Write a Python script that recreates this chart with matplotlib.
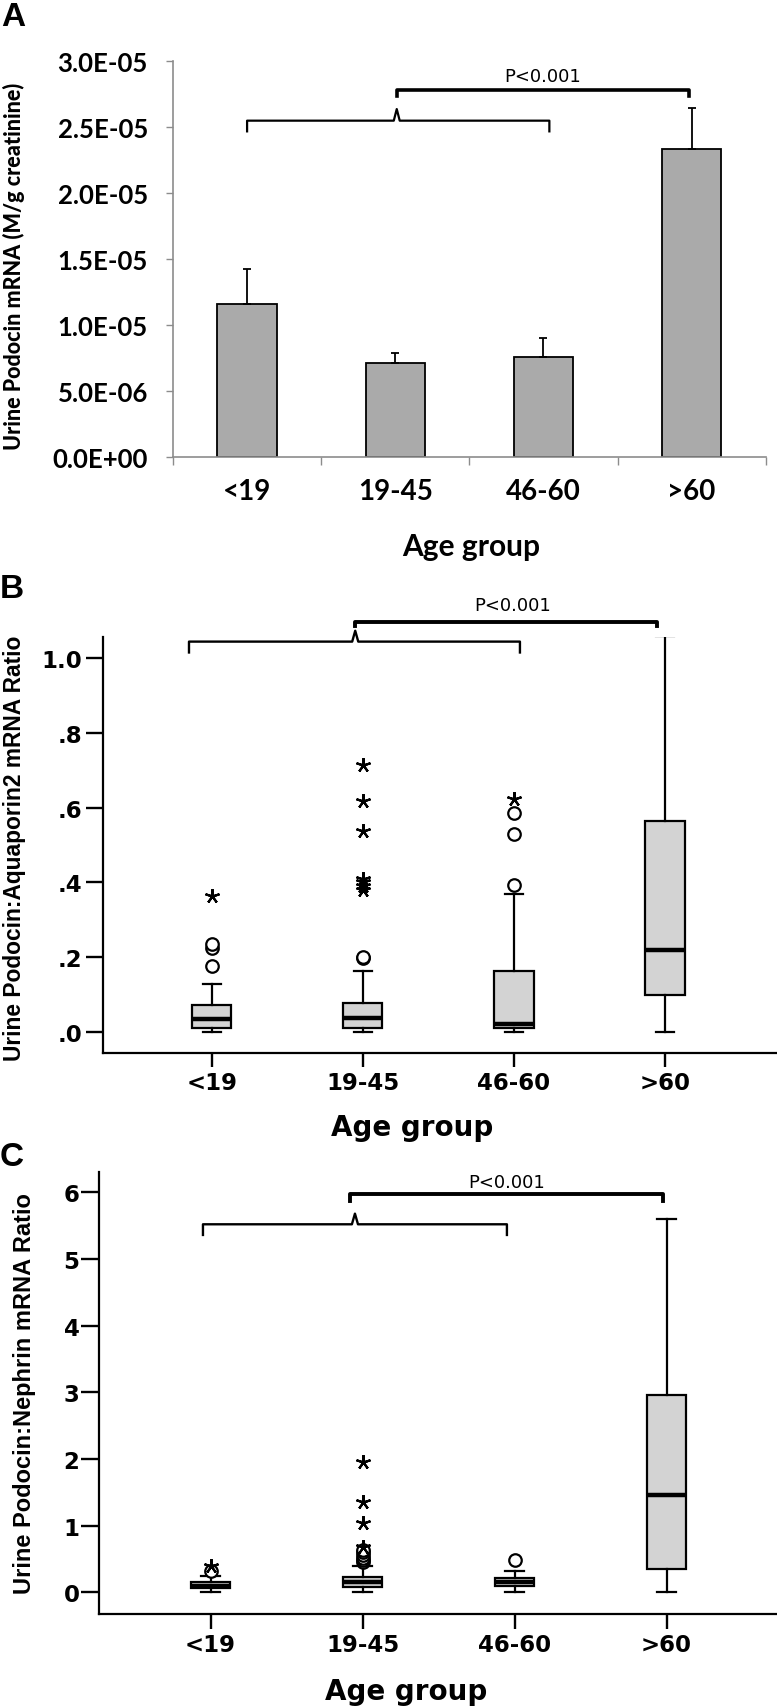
import matplotlib
matplotlib.use("Agg")
import matplotlib.pyplot as plt
import numpy as np

# ---------------- data ----------------
categories = ['<19', '19-45', '46-60', '>60']

# Panel A: urine podocin mRNA (mean, upper SEM)
podocin_mean = [1.16e-5, 7.12e-6, 7.58e-6, 2.334e-5]
podocin_err = [2.64e-6, 0.73e-6, 1.41e-6, 3.09e-6]
a_yticks = [0, 5e-6, 1e-5, 1.5e-5, 2e-5, 2.5e-5, 3e-5]
a_yticklabels = ['0.0E+00', '5.0E-06', '1.0E-05', '1.5E-05', '2.0E-05', '2.5E-05', '3.0E-05']

# Panel B: podocin:aquaporin2 ratio box stats
aqp_whislo = [0.002, 0.0, 0.0, 0.0]
aqp_q1 = [0.012, 0.012, 0.012, 0.100]
aqp_med = [0.035, 0.037, 0.022, 0.221]
aqp_q3 = [0.072, 0.078, 0.163, 0.563]
aqp_whishi = [0.130, 0.165, 0.369, 1.057]
aqp_circle_grp = [1, 1, 1, 2, 2, 3, 3, 3]
aqp_circle_val = [0.177, 0.225, 0.235, 0.198, 0.202, 0.394, 0.529, 0.585]
aqp_star_grp = [1, 2, 2, 2, 2, 2, 2, 2, 3]
aqp_star_val = [0.363, 0.380, 0.390, 0.400, 0.410, 0.537, 0.618, 0.714, 0.623]
b_yticks = [0.0, 0.2, 0.4, 0.6, 0.8, 1.0]
b_yticklabels = ['.0', '.2', '.4', '.6', '.8', '1.0']

# Panel C: podocin:nephrin ratio box stats
neph_whislo = [0.01, 0.0, 0.0, 0.0]
neph_q1 = [0.060, 0.075, 0.100, 0.343]
neph_med = [0.100, 0.150, 0.160, 1.464]
neph_q3 = [0.155, 0.225, 0.210, 2.965]
neph_whishi = [0.247, 0.400, 0.311, 5.600]
neph_circle_grp = [1, 2, 2, 2, 2, 2, 2, 3]
neph_circle_val = [0.32, 0.45, 0.48, 0.52, 0.56, 0.60, 0.63, 0.477]
neph_star_grp = [1, 2, 2, 2, 2]
neph_star_val = [0.40, 0.68, 1.04, 1.35, 1.95]
c_yticks = [0, 1, 2, 3, 4, 5, 6]
c_yticklabels = ['0', '1', '2', '3', '4', '5', '6']

# ---------------- figure ----------------
W, H = 777, 1708
fig = plt.figure(figsize=(W / 100, H / 100), dpi=100)


def fx(px):
    return px / W


def fy(py):
    return 1 - py / H


def axes_px(left, top, right, bottom):
    return fig.add_axes([fx(left), fy(bottom), fx(right) - fx(left), (bottom - top) / H])


LATO = ['Lato', 'DejaVu Sans']
ARIALB = ['Liberation Sans', 'DejaVu Sans']
WIDE = ['DejaVu Sans']

# ======== Panel A ========
axA = axes_px(173, 62, 765.7, 458)
x = np.arange(len(categories))
axA.bar(x, podocin_mean, width=0.4, color='#aaaaaa', edgecolor='black', linewidth=1.3, zorder=2)
axA.errorbar(x, podocin_mean, yerr=[np.zeros(len(x)), podocin_err], fmt='none',
             ecolor='black', elinewidth=1.3, capsize=3, capthick=1.3, zorder=3)
axA.set_xlim(-0.5, 3.5)
axA.set_ylim(0, 3e-5)
for s in ['top', 'right']:
    axA.spines[s].set_visible(False)
for s in ['left', 'bottom']:
    axA.spines[s].set_color('#8c8c8c')
    axA.spines[s].set_linewidth(1.2)
axA.set_yticks(a_yticks)
axA.set_yticklabels(a_yticklabels, fontfamily=LATO, fontweight='bold', fontsize=18.5)
axA.tick_params(axis='y', length=5, width=1, color='#8c8c8c', pad=13)
axA.set_xticks(x)
axA.set_xticklabels(categories, fontfamily=LATO, fontweight='bold', fontsize=20)
axA.tick_params(axis='x', which='major', length=0, pad=15)
axA.set_xticks(np.arange(-0.5, 3.6, 1.0), minor=True)
axA.tick_params(axis='x', which='minor', length=6, width=1, color='#8c8c8c')

# brackets A
axA.plot([0.0, 0.0, 0.99, 1.01, 1.03, 2.04, 2.04],
         [2.467e-5, 2.548e-5, 2.548e-5, 2.636e-5, 2.548e-5, 2.548e-5, 2.467e-5],
         color='black', lw=1.6, clip_on=False, solid_joinstyle='round')
axA.plot([1.01, 1.01, 2.98, 2.98], [2.737e-5, 2.783e-5, 2.783e-5, 2.737e-5],
         color='black', lw=2.6, clip_on=False)
axA.text(1.995, 2.889e-5, 'P<0.001', ha='center', va='center', fontsize=13,
         fontfamily=WIDE, clip_on=False)

fig.text(fx(14), fy(266), 'Urine Podocin mRNA (M/g creatinine)', rotation=90,
         ha='center', va='center', fontfamily=LATO, fontweight='black', fontsize=15.5)
fig.text(fx(471), fy(547), 'Age group', ha='center', va='center',
         fontfamily=LATO, fontweight='bold', fontsize=21.5)
fig.text(fx(13), fy(17), 'A', ha='center', va='center', fontfamily=ARIALB,
         fontweight='bold', fontsize=24)


# ======== box panels ========
def box_panel(ax, whislo, q1, med, q3, whishi, cgrp, cval, sgrp, sval,
              xlim, ylim, yticks, yticklabels, ytick_len, ytick_pad, xtick_len):
    stats = []
    for i in range(len(categories)):
        stats.append(dict(med=med[i], q1=q1[i], q3=q3[i], whislo=whislo[i],
                          whishi=whishi[i], fliers=[]))
    pos = np.arange(1, len(categories) + 1)
    ax.bxp(stats, positions=pos, widths=0.26, patch_artist=True, showfliers=False,
           manage_ticks=False, capwidths=0.12,
           boxprops=dict(facecolor='#d3d3d3', edgecolor='black', linewidth=1.6),
           medianprops=dict(color='black', linewidth=3.2),
           whiskerprops=dict(color='black', linewidth=1.6),
           capprops=dict(color='black', linewidth=1.6))
    ax.plot(cgrp, cval, linestyle='none', marker='o', markersize=9,
            markerfacecolor='white', markeredgecolor='black', markeredgewidth=1.6,
            clip_on=False, zorder=4)
    ax.plot(sgrp, sval, linestyle='none', marker=(5, 2, 0), markersize=10.5,
            markeredgecolor='black', markeredgewidth=1.6, clip_on=False, zorder=4)
    ax.set_xlim(*xlim)
    ax.set_ylim(*ylim)
    for s in ['top', 'right']:
        ax.spines[s].set_visible(False)
    for s in ['left', 'bottom']:
        ax.spines[s].set_linewidth(1.6)
    ax.set_yticks(yticks)
    ax.set_yticklabels(yticklabels, fontfamily=WIDE, fontweight='bold', fontsize=16.5)
    ax.tick_params(axis='y', length=ytick_len, width=1.7, pad=ytick_pad)
    ax.set_xticks(pos)
    ax.set_xticklabels(categories, fontfamily=WIDE, fontweight='bold', fontsize=16.5)
    ax.tick_params(axis='x', length=xtick_len, width=1.7, pad=3)
    ax.patch.set_alpha(0)


# Panel B
axB = axes_px(102.7, 638.3, 777, 1054.3)
box_panel(axB, aqp_whislo, aqp_q1, aqp_med, aqp_q3, aqp_whishi,
          aqp_circle_grp, aqp_circle_val, aqp_star_grp, aqp_star_val,
          (0.279, 4.741), (-0.056, 1.0545), b_yticks, b_yticklabels, 12.5, 2.4, 10)
axB.plot([0.85, 0.85, 1.93, 1.95, 1.97, 3.04, 3.04],
         [1.014, 1.043, 1.043, 1.072, 1.043, 1.043, 1.014],
         color='black', lw=1.7, clip_on=False)
axB.plot([1.95, 1.95, 3.95, 3.95], [1.084, 1.096, 1.096, 1.084],
         color='black', lw=2.8, clip_on=False)
axB.text(2.99, 1.14, 'P<0.001', ha='center', va='center', fontsize=13,
         fontfamily=WIDE, clip_on=False)
fig.text(fx(15), fy(848), 'Urine Podocin:Aquaporin2 mRNA Ratio', rotation=90,
         ha='center', va='center', fontfamily=ARIALB, fontweight='bold', fontsize=16.4)
fig.text(fx(411.7), fy(1128), 'Age group', ha='center', va='center',
         fontfamily=WIDE, fontweight='bold', fontsize=20)
fig.text(fx(12), fy(590), 'B', ha='center', va='center', fontfamily=ARIALB,
         fontweight='bold', fontsize=24)

# Panel C
axC = axes_px(99, 1173.3, 777, 1615.2)
box_panel(axC, neph_whislo, neph_q1, neph_med, neph_q3, neph_whishi,
          neph_circle_grp, neph_circle_val, neph_star_grp, neph_star_val,
          (0.266, 4.727), (-0.33, 6.3), c_yticks, c_yticklabels, 13, 1, 10.5)
axC.plot([0.95, 0.95, 1.93, 1.95, 1.97, 2.95, 2.95],
         [5.36, 5.52, 5.52, 5.68, 5.52, 5.52, 5.36],
         color='black', lw=1.7, clip_on=False)
axC.plot([1.92, 1.92, 3.98, 3.98], [5.87, 5.97, 5.97, 5.87],
         color='black', lw=2.8, clip_on=False)
axC.text(2.95, 6.15, 'P<0.001', ha='center', va='center', fontsize=13,
         fontfamily=WIDE, clip_on=False)
fig.text(fx(25), fy(1393.5), 'Urine Podocin:Nephrin mRNA Ratio', rotation=90,
         ha='center', va='center', fontfamily=ARIALB, fontweight='bold', fontsize=17)
fig.text(fx(406), fy(1692), 'Age group', ha='center', va='center',
         fontfamily=WIDE, fontweight='bold', fontsize=20)
fig.text(fx(12), fy(1157), 'C', ha='center', va='center', fontfamily=ARIALB,
         fontweight='bold', fontsize=24)

fig.savefig('out.png', dpi=100)
